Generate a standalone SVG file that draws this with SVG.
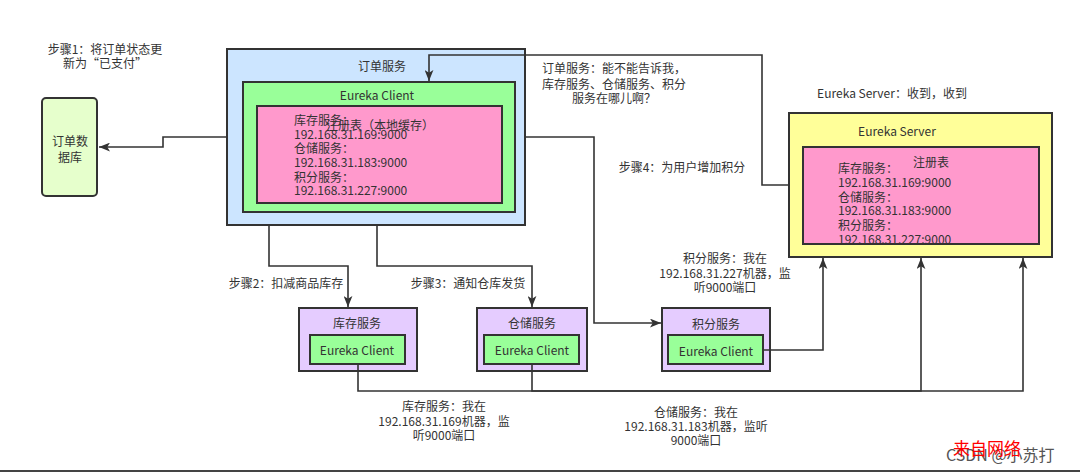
<svg xmlns="http://www.w3.org/2000/svg" width="1080" height="472" viewBox="0 0 1080 472">
<defs>
<marker id="arr" viewBox="0 0 10 8" refX="10" refY="4" markerWidth="11" markerHeight="9" markerUnits="userSpaceOnUse" orient="auto">
<path d="M0,0 L10,4 L0,8 L2.5,4 Z" fill="#333"/>
</marker>
<style>
text{font-family:"Noto Sans CJK SC","Liberation Sans",sans-serif;font-size:12px;fill:#333;dominant-baseline:central}
.c{text-anchor:middle}
.box{stroke:#333;stroke-width:2}
.blue{fill:#CCE5FF}
.green{fill:#99FF99}
.pink{fill:#FF99CC}
.purple{fill:#E5CCFF}
.yellow{fill:#FFFF99}
.lime{fill:#E6FFCC}
.conn{fill:none;stroke:#333;stroke-width:1.6;marker-end:url(#arr)}
</style>
</defs>
<rect width="1080" height="472" fill="#fff"/>

<g id="order-db">
<rect class="box lime" x="42" y="98" width="55" height="98" rx="4"/>
<text class="c" x="70" y="140">订单数</text>
<text class="c" x="70" y="156">据库</text>
</g>

<g id="order-service">
<rect class="box blue" x="227" y="49" width="298" height="176"/>
<text class="c" x="382" y="65">订单服务</text>
<rect class="box green" x="243" y="82" width="272" height="130"/>
<text class="c" x="377" y="94">Eureka Client</text>
<rect class="box pink" x="257" y="106" width="245" height="97"/>
<text class="c" x="380" y="124">注册表（本地缓存）</text>
<text x="294" y="119">库存服务：</text>
<text x="294" y="133">192.168.31.169:9000</text>
<text x="294" y="147">仓储服务：</text>
<text x="294" y="161">192.168.31.183:9000</text>
<text x="294" y="176">积分服务：</text>
<text x="294" y="189">192.168.31.227:9000</text>
</g>

<g id="eureka-server">
<rect class="box yellow" x="789" y="113" width="263" height="144"/>
<text class="c" x="897" y="130">Eureka Server</text>
<rect class="box pink" x="803" y="147" width="236" height="97"/>
<text class="c" x="931" y="161">注册表</text>
<text x="838" y="167">库存服务：</text>
<text x="838" y="181">192.168.31.169:9000</text>
<text x="838" y="196">仓储服务：</text>
<text x="838" y="209">192.168.31.183:9000</text>
<text x="838" y="224">积分服务：</text>
<text x="838" y="238">192.168.31.227:9000</text>
</g>

<g id="stock-service">
<rect class="box purple" x="299" y="308" width="118" height="63"/>
<text class="c" x="357" y="322">库存服务</text>
<rect class="box green" x="310" y="335" width="95" height="29"/>
<text class="c" x="357" y="349">Eureka Client</text>
</g>

<g id="warehouse-service">
<rect class="box purple" x="477" y="308" width="110" height="63"/>
<text class="c" x="532" y="322">仓储服务</text>
<rect class="box green" x="484" y="335" width="95" height="29"/>
<text class="c" x="532" y="349">Eureka Client</text>
</g>

<g id="points-service">
<rect class="box purple" x="662" y="308" width="108" height="63"/>
<text class="c" x="716" y="323">积分服务</text>
<rect class="box green" x="668" y="335" width="95" height="29"/>
<text class="c" x="716" y="350">Eureka Client</text>
</g>

<g id="connectors">
<path class="conn" d="M227,137 H163 V147 H99"/>
<path class="conn" d="M789,185 H762 V55 H429 V81"/>
<path class="conn" d="M269,225 V266 H348 V307"/>
<path class="conn" d="M377,225 V266 H532 V307"/>
<path class="conn" d="M525,137 H594 V323 H661"/>
<path class="conn" d="M763,350 H823 V258"/>
<path class="conn" d="M358,364 V391 H921 V258"/>
<path class="conn" d="M532,364 V391 H1023 V258"/>
</g>

<g id="labels">
<text class="c" x="105" y="48">步骤1：将订单状态更</text>
<text class="c" x="105" y="62">新为“已支付”</text>
<text class="c" x="614" y="67">订单服务：能不能告诉我，</text>
<text class="c" x="614" y="83">库存服务、仓储服务、积分</text>
<text class="c" x="614" y="97">服务在哪儿啊？</text>
<text class="c" x="892" y="92">Eureka Server：收到，收到</text>
<text class="c" x="682" y="166">步骤4：为用户增加积分</text>
<text class="c" x="286" y="282">步骤2：扣减商品库存</text>
<text class="c" x="468" y="282">步骤3：通知仓库发货</text>
<text class="c" x="725" y="257">积分服务：我在</text>
<text class="c" x="725" y="272">192.168.31.227机器，监</text>
<text class="c" x="725" y="286">听9000端口</text>
<text class="c" x="444" y="405">库存服务：我在</text>
<text class="c" x="444" y="420">192.168.31.169机器，监</text>
<text class="c" x="444" y="434">听9000端口</text>
<text class="c" x="696" y="411">仓储服务：我在</text>
<text class="c" x="696" y="425">192.168.31.183机器，监听</text>
<text class="c" x="696" y="439">9000端口</text>
</g>

<g id="watermark">
<text x="946" y="454" style="font-size:16px;fill:#555">CSDN @小苏打</text>
<text x="953" y="447" style="font-size:17px;fill:#ff0000">来自网络</text>
</g>
<line x1="0" y1="471" x2="1080" y2="471" stroke="#444" stroke-width="2"/>
</svg>
